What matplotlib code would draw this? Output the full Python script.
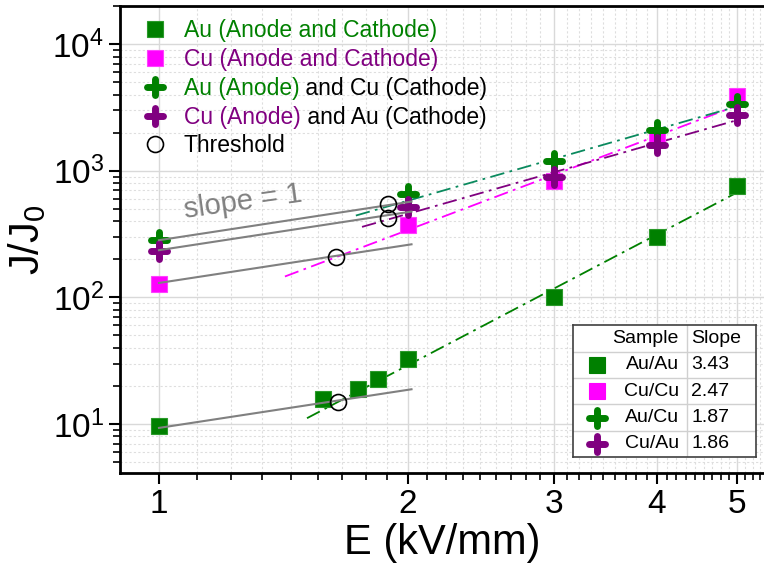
import numpy as np
import matplotlib.pyplot as plt
from matplotlib.markers import MarkerStyle
from matplotlib.ticker import FixedLocator, NullFormatter, LogLocator, LogFormatterMathtext

plt.rcParams['font.family'] = ['Liberation Sans', 'DejaVu Sans']
plt.rcParams['mathtext.default'] = 'regular'

# data
E_auau = [1, 1.58, 1.74, 1.84, 2, 3, 4, 5]
J_auau = [9.6, 15.7, 18.9, 22.7, 32.6, 100, 299, 755]
E = [1, 2, 3, 4, 5]
J_cucu = [127, 372, 830, 1800, 3900]
J_aucu = [283, 653, 1200, 2100, 3350]
J_cuau = [232, 516, 900, 1590, 2750]
thr_E = [1.644, 1.637, 1.89, 1.89]
thr_J = [14.8, 210, 545, 425]

# fits J = A * E^slope
samples = ['Au/Au', 'Cu/Cu', 'Au/Cu', 'Cu/Au']
slopes = [3.43, 2.47, 1.87, 1.86]
fit_A = [2.7, 61.5, 159, 126]
fit_start = [1.51, 1.42, 1.73, 1.76]
fit_colors = ['#008000', '#ff00ff', '#0a8a5e', '#800080']

# slope = 1 guide lines
guide_y0 = [283, 236, 130, 9.3]
guide_end = 2.02

green = '#008000'
magenta = '#ff00ff'
purple = '#800080'
plus = MarkerStyle('+', capstyle='round')

fig = plt.figure(figsize=(7.64, 5.63), dpi=100)
ax = fig.add_axes([0.157, 0.16, 0.843, 0.829])
ax.set_xscale('log')
ax.set_yscale('log')

dd = (0, (8, 3, 1.5, 3))
for A, s, x0, c in zip(fit_A, slopes, fit_start, fit_colors):
    xx = np.linspace(x0, 5, 50)
    ax.plot(xx, A * xx ** s, color=c, lw=1.3, ls=dd, zorder=2)

h1, = ax.plot(E_auau, J_auau, 's', color=green, ms=11, mec='#2a9a2a', mew=0.8, ls='none', zorder=3)
h2, = ax.plot(E, J_cucu, 's', color=magenta, ms=11, mec='#ff40ff', mew=0.8, ls='none', zorder=3)
h3, = ax.plot(E, J_aucu, marker=plus, color=green, ms=12, mew=5, ls='none', zorder=4)
h4, = ax.plot(E, J_cuau, marker=plus, color=purple, ms=12, mew=5, ls='none', zorder=4)

for y0 in guide_y0:
    xx = np.array([1, guide_end])
    ax.plot(xx, y0 * xx, color='#808080', lw=1.5, zorder=5)

h5, = ax.plot(thr_E, thr_J, 'o', mfc='none', mec='black', ms=11.5, mew=1.2, ls='none', zorder=6)

ax.text(1.265, 570, 'slope = 1', color='#808080', fontsize=21, rotation=8,
        ha='center', va='center')

ax.set_xlim(0.897, 5.39)
ax.set_ylim(4.1, 2e4)

ax.xaxis.set_major_locator(FixedLocator([1, 2, 3, 4, 5]))
ax.set_xticklabels(['1', '2', '3', '4', '5'])
xminor = [a + k / 9 for a in [1, 2, 3, 4] for k in range(1, 9)] + [5 + k / 9 for k in range(1, 4)]
ax.xaxis.set_minor_locator(FixedLocator(xminor))
ax.xaxis.set_minor_formatter(NullFormatter())
ax.yaxis.set_major_locator(LogLocator(base=10, numticks=10))
ax.yaxis.set_major_formatter(LogFormatterMathtext())
ax.yaxis.set_minor_locator(LogLocator(base=10, subs=np.arange(2, 10), numticks=20))
ax.yaxis.set_minor_formatter(NullFormatter())

ax.tick_params(which='major', direction='out', length=8, width=1.5, labelsize=24)
ax.tick_params(which='minor', direction='out', length=5, width=1.2)
ax.grid(which='major', color='#d9d9d9', lw=1, ls='-', zorder=0)
ax.grid(which='minor', color='#dedede', lw=0.8, ls=(0, (2, 2)), zorder=0)
ax.set_axisbelow(True)

ax.spines['right'].set_visible(False)
for s in ['left', 'bottom', 'top']:
    ax.spines[s].set_linewidth(2)

ax.set_xlabel('E (kV/mm)', fontsize=30, labelpad=2)
ax.set_ylabel('J/J$_0$', fontsize=30, labelpad=3)

leg = ax.legend([h1, h2, h3, h4, h5],
                ['Au (Anode and Cathode)', 'Cu (Anode and Cathode)', 'Au (Anode)', 'Cu (Anode)', 'Threshold'],
                loc='upper left', bbox_to_anchor=(0.012, 1.006), frameon=False, fontsize=16.5,
                handlelength=1.0, handletextpad=0.75, labelspacing=0.25, borderaxespad=0.3)
tcolors = [green, purple, green, purple, 'black']
for t, c in zip(leg.get_texts(), tcolors):
    t.set_color(c)

# black tail of the mixed-colour legend labels
fig.canvas.draw()
inv = fig.transFigure.inverted()
texts = leg.get_texts()
for t, tail in [(texts[2], ' and Cu (Cathode)'), (texts[3], ' and Au (Cathode)')]:
    bb = t.get_window_extent()
    x, y = inv.transform((bb.x1, bb.y0))
    fig.text(x, y, tail, ha='left', va='bottom', fontsize=16.5, color='black')

# slope table
tax = fig.add_axes([0.75, 0.188, 0.2395, 0.2345])
tax.set_xlim(0, 1)
tax.set_ylim(0, 5)
tax.set_xticks([])
tax.set_yticks([])
for s in tax.spines.values():
    s.set_color('#404040')
    s.set_linewidth(1.2)
for yy in [1, 2, 3, 4]:
    tax.axhline(yy, color='#d0d0d0', lw=1)
tax.axvline(0.623, color='#d0d0d0', lw=1)
tax.text(0.579, 4.5, 'Sample', ha='right', va='center', fontsize=14)
tax.text(0.645, 4.5, 'Slope', ha='left', va='center', fontsize=14)
tmark = [('s', green, 11, 0.8), ('s', magenta, 11, 0.8), (plus, green, 12, 5), (plus, purple, 12, 5)]
for i, (name, sl) in enumerate(zip(samples, slopes)):
    yy = 3.5 - i
    m, c, ms, mew = tmark[i]
    tax.plot([0.131], [yy], marker=m, color=c, ms=ms, mew=mew, ls='none')
    tax.text(0.579, yy, name, ha='right', va='center', fontsize=14)
    tax.text(0.645, yy, '%.2f' % sl, ha='left', va='center', fontsize=14)

fig.savefig('out.png', dpi=100)
